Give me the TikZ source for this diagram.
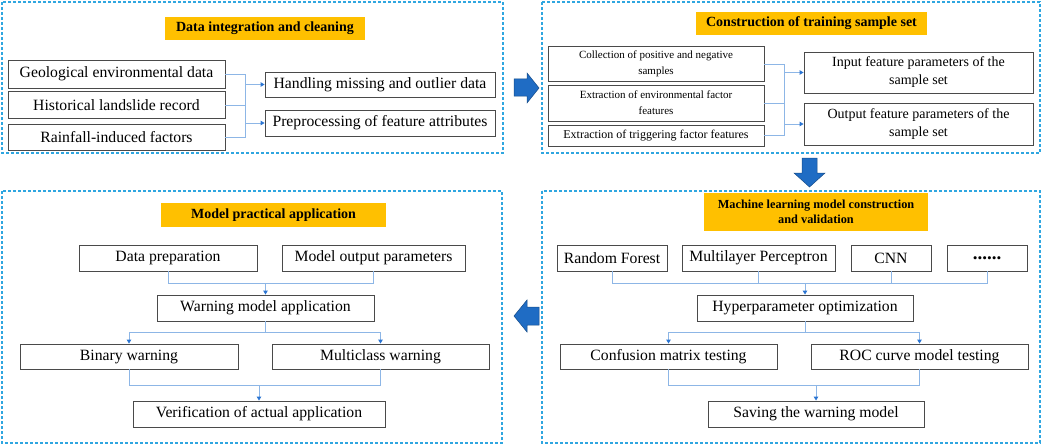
\documentclass[tikz,border=0pt]{standalone}
\usepackage{fontspec}
\setmainfont{Liberation Serif}
\usetikzlibrary{arrows.meta}
\definecolor{dashblue}{HTML}{2FA6E0}
\definecolor{titleyellow}{HTML}{FFC000}
\definecolor{lineblue}{HTML}{8DB6E6}
\definecolor{headblue}{HTML}{2A74D2}
\definecolor{blockblue}{HTML}{1F6CC4}
\definecolor{boxgray}{HTML}{4A4A4A}
\tikzset{
  panel/.style={draw=dashblue, line width=1.3pt, dash pattern=on 3pt off 2pt},
  ttl/.style={fill=titleyellow, inner sep=0pt, align=center, font=\bfseries\fontsize{14}{16}\selectfont},
  bx/.style={draw=boxgray, line width=0.9pt, fill=white, inner sep=0pt, align=center, font=\fontsize{15.7}{18}\selectfont},
  sbx/.style={bx, font=\fontsize{11}{16}\selectfont},
  mbx/.style={bx, font=\fontsize{14}{18}\selectfont},
  conn/.style={draw=lineblue, line width=0.9pt},
  arr/.style={conn, -{Triangle[length=4pt,width=4.5pt,color=headblue]}},
  blockarrow/.style={fill=blockblue, draw=blockblue!70!black, line width=0.5pt}
}
\begin{document}
\begin{tikzpicture}[x=1pt,y=-1pt]
\useasboundingbox (0,0) rectangle (1052,444);
% panels
\draw[panel] (2,2) rectangle (503,153);
\draw[panel] (542,2) rectangle (1040,153);
\draw[panel] (2,191) rectangle (502,443);
\draw[panel] (542,191) rectangle (1040,443);

% ---------- Top-left ----------
\node[ttl, minimum width=200pt, minimum height=23pt] (t1) at (265,28.5) {Data integration and cleaning};
\node[bx, minimum width=217pt, minimum height=28pt] (g1) at (116.5,74) {Geological environmental data};
\node[bx, minimum width=217pt, minimum height=27pt] (g2) at (116.5,105) {Historical landslide record};
\node[bx, minimum width=217pt, minimum height=26pt] (g3) at (116.5,137) {Rainfall-induced factors};
\node[bx, minimum width=230pt, minimum height=25pt] (h1) at (380,84.5) {Handling missing and outlier data};
\node[bx, minimum width=230pt, minimum height=26pt] (h2) at (380,123) {Preprocessing of feature attributes};
\coordinate (tla) at (245,74);
\coordinate (tlb) at (245,137);
\draw[conn] (g1.east) -- (tla) -- (tlb) -- (g3.east);
\draw[conn] (g2.east) -- (g2.east -| tla);
\draw[arr] (h1.west -| tla) -- (h1.west);
\draw[arr] (h2.west -| tla) -- (h2.west);

% ---------- Top-right ----------
\node[ttl, minimum width=231pt, minimum height=23pt] (t2) at (811.5,23.5) {Construction of training sample set};
\node[sbx, minimum width=216pt, minimum height=35pt] (c1) at (656,63.5) {Collection of positive and negative\\samples};
\node[sbx, minimum width=216pt, minimum height=36pt] (c2) at (656,103) {Extraction of environmental factor\\features};
\node[sbx, minimum width=216pt, minimum height=21pt, font=\fontsize{12}{14}\selectfont] (c3) at (656,135.5) {Extraction of triggering factor features};
\node[mbx, minimum width=229pt, minimum height=41pt] (o1) at (918.5,72.5) {Input feature parameters of the\\sample set};
\node[mbx, minimum width=229pt, minimum height=42pt] (o2) at (918.5,124) {Output feature parameters of the\\sample set};
\coordinate (tra) at (784,64);
\coordinate (trb) at (784,135.5);
\draw[conn] (c1.east |- tra) -- (tra) -- (trb) -- (c3.east |- trb);
\draw[conn] (c2.east) -- (c2.east -| tra);
\draw[arr] (o1.west -| tra) -- (o1.west);
\draw[arr] (o2.west -| tra) -- (o2.west);

% ---------- Bottom-left ----------
\node[ttl, minimum width=225pt, minimum height=24pt] (t4) at (273.5,215) {Model practical application};
\node[bx, minimum width=178pt, minimum height=26pt] (dp) at (168,258) {Data preparation};
\node[bx, minimum width=183pt, minimum height=26pt] (mo) at (373.5,258) {Model output parameters};
\node[bx, minimum width=217pt, minimum height=26pt] (wm) at (265.5,308) {Warning model application};
\node[bx, minimum width=218pt, minimum height=25pt] (bw) at (129,356.5) {Binary warning};
\node[bx, minimum width=217pt, minimum height=25pt] (mw) at (380.5,356.5) {Multiclass warning};
\node[bx, minimum width=252pt, minimum height=26pt] (va) at (259,414) {Verification of actual application};
\coordinate (bl1) at (265.5,283);
\coordinate (bl2) at (265.5,332);
\coordinate (bl3) at (259,385);
\draw[conn] (dp.south) -- (dp.south |- bl1) -- (mo.south |- bl1) -- (mo.south);
\draw[arr] (bl1) -- (wm.north);
\draw[conn] (wm.south) -- (bl2);
\draw[conn] (bw.north |- bl2) -- (mw.north |- bl2);
\draw[arr] (bw.north |- bl2) -- (bw.north);
\draw[arr] (mw.north |- bl2) -- (mw.north);
\draw[conn] (bw.south) -- (bw.south |- bl3) -- (mw.south |- bl3) -- (mw.south);
\draw[arr] (bl3) -- (va.north);

% ---------- Bottom-right ----------
\node[ttl, minimum width=224pt, minimum height=38pt, font=\bfseries\fontsize{12.3}{15}\selectfont] (t3) at (816,212) {Machine learning model construction\\and validation};
\node[bx, minimum width=110pt, minimum height=26pt] (rf) at (612,258) {Random Forest};
\node[bx, minimum width=153pt, minimum height=26pt] (mp) at (758.5,258) {Multilayer Perceptron};
\node[bx, minimum width=80pt, minimum height=26pt] (cnn) at (891,258) {CNN};
\node[bx, minimum width=80pt, minimum height=26pt, font=\bfseries\fontsize{19}{20}\selectfont] (dots) at (987,258) {......};
\node[bx, minimum width=216pt, minimum height=26pt] (hp) at (805,308) {Hyperparameter optimization};
\node[bx, minimum width=217pt, minimum height=25pt] (cm) at (668.5,356.5) {Confusion matrix testing};
\node[bx, minimum width=217pt, minimum height=25pt] (roc) at (919.5,356.5) {ROC curve model testing};
\node[bx, minimum width=216pt, minimum height=26pt] (sv) at (816,414) {Saving the warning model};
\coordinate (br1) at (805,283);
\coordinate (br2) at (805,332);
\coordinate (br3) at (816,385);
\draw[conn] (rf.south) -- (rf.south |- br1) -- (dots.south |- br1) -- (dots.south);
\draw[conn] (mp.south) -- (mp.south |- br1);
\draw[conn] (cnn.south) -- (cnn.south |- br1);
\draw[arr] (br1) -- (hp.north);
\draw[conn] (hp.south) -- (br2);
\draw[conn] (cm.north |- br2) -- (roc.north |- br2);
\draw[arr] (cm.north |- br2) -- (cm.north);
\draw[arr] (roc.north |- br2) -- (roc.north);
\draw[conn] (cm.south) -- (cm.south |- br3) -- (roc.south |- br3) -- (roc.south);
\draw[arr] (br3) -- (sv.north);

% ---------- block arrows ----------
\draw[blockarrow] (514,79) -- (527,79) -- (527,73) -- (539,88) -- (527,103) -- (527,96) -- (514,96) -- cycle;
\draw[blockarrow] (802,158) -- (817,158) -- (817,173) -- (825,173) -- (809.5,187) -- (794,173) -- (802,173) -- cycle;
\draw[blockarrow] (539,307) -- (527,307) -- (527,300) -- (514,316) -- (527,332) -- (527,325) -- (539,325) -- cycle;
\end{tikzpicture}
\end{document}
